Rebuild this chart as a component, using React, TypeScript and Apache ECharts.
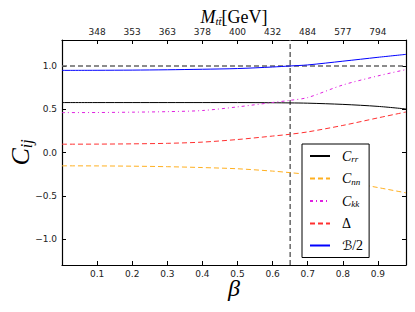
import React, { useEffect, useRef } from 'react';
import * as echarts from 'echarts';

// beta grid
const beta = [0, 0.1, 0.2, 0.3, 0.4, 0.5, 0.6, 0.65, 0.7, 0.8, 0.9, 0.98];
// series values
const cRR = [0.577, 0.577, 0.577, 0.577, 0.577, 0.577, 0.575, 0.573, 0.57, 0.556, 0.533, 0.503];
const cNN = [-0.154, -0.155, -0.158, -0.164, -0.174, -0.188, -0.215, -0.233, -0.255, -0.33, -0.405, -0.466];
const cKK = [0.461, 0.462, 0.466, 0.472, 0.485, 0.527, 0.578, 0.603, 0.635, 0.78, 0.885, 0.958];
const delta = [0.096, 0.097, 0.1, 0.106, 0.12, 0.15, 0.19, 0.211, 0.238, 0.313, 0.4, 0.468];
const bHalf = [0.949, 0.95, 0.952, 0.956, 0.962, 0.97, 0.988, 1.0, 1.012, 1.055, 1.1, 1.134];
// ticks
const xTicks = [0.1, 0.2, 0.3, 0.4, 0.5, 0.6, 0.7, 0.8, 0.9];
const topTickLabels = ['348', '353', '363', '378', '400', '432', '484', '577', '794'];
const yTicks = [-1.0, -0.5, 0.0, 0.5, 1.0];
const refLevel = 1.0;
const refBeta = 0.65;

const serif = 'Liberation Serif';
const sans = 'DejaVu Sans';

const richMath = (size: number) => ({
  i: { fontFamily: serif, fontStyle: 'italic', fontSize: size, color: '#000' },
  s: { fontFamily: serif, fontStyle: 'italic', fontSize: Math.round(size * 0.62), color: '#000', padding: [Math.round(size * 0.45), 0, 0, 0] },
  r: { fontFamily: serif, fontSize: size, color: '#000' },
  b: { fontFamily: 'DejaVu Sans', fontSize: size - 1, color: '#000' },
});

export default function App() {
  const ref = useRef<HTMLDivElement>(null);
  useEffect(() => {
    if (!ref.current) return;
    const chart = echarts.init(ref.current, undefined, { renderer: 'svg' });
    const pairs = (vals: number[]) => beta.map((b, i) => [b, vals[i]]);
    const legendText: Record<string, string> = {
      Crr: '{i|C}{s|rr}',
      Cnn: '{i|C}{s|nn}',
      Ckk: '{i|C}{s|kk}',
      Delta: '{r|Δ}',
      B2: '{b|ℬ}{r|/2}',
    };
    const frameLine = { show: true, onZero: false, lineStyle: { color: '#000', width: 1.2 } };
    const tick = (vals: number[]) => ({ show: true, inside: true, length: 4, customValues: vals, lineStyle: { color: '#000', width: 1 } });
    const labelStyle = { fontFamily: sans, fontSize: 9, color: '#222' };
    chart.setOption({
      animation: false,
      backgroundColor: '#fff',
      grid: { left: 62, right: 9, top: 40, bottom: 47, containLabel: false, outerBoundsMode: 'none' },
      legend: {
        data: ['Crr', 'Cnn', 'Ckk', 'Delta', 'B2'],
        orient: 'vertical',
        left: 302,
        top: 144,
        itemWidth: 20,
        itemHeight: 10,
        itemGap: 8,
        padding: [5, 6, 5, 7],
        borderColor: '#000',
        borderWidth: 1,
        backgroundColor: '#fff',
        borderRadius: 0,
        itemStyle: { opacity: 0, borderWidth: 0 },
        formatter: (n: string) => legendText[n],
        textStyle: { width: 26, padding: [0, 0, 0, 7], rich: richMath(14) },
        selectedMode: false,
      },
      xAxis: [
        {
          type: 'value', min: 0, max: 0.98, position: 'bottom',
          axisLine: frameLine, axisTick: tick(xTicks), splitLine: { show: false },
          axisLabel: { ...labelStyle, customValues: xTicks, margin: 4, formatter: (v: number) => v.toFixed(1) },
          name: '{i|β}', nameLocation: 'middle', nameGap: 11, nameMoveOverlap: false,
          nameTextStyle: { rich: richMath(24) },
        },
        {
          type: 'value', min: 0, max: 0.98, position: 'top',
          axisLine: frameLine, axisTick: tick(xTicks), splitLine: { show: false },
          axisLabel: {
            ...labelStyle, customValues: xTicks, margin: 4,
            formatter: (v: number) => {
              const k = xTicks.findIndex((t) => Math.abs(t - v) < 1e-6);
              return k >= 0 ? topTickLabels[k] : '';
            },
          },
          name: '{i|M}{s|tt̄}{r|[GeV]}', nameLocation: 'middle', nameGap: 14, nameMoveOverlap: false,
          nameTextStyle: { rich: richMath(18) },
        },
      ],
      yAxis: [
        {
          type: 'value', min: -1.3, max: 1.3, position: 'left',
          axisLine: frameLine, axisTick: tick(yTicks), splitLine: { show: false },
          axisLabel: {
            ...labelStyle, customValues: yTicks, margin: 5,
            formatter: (v: number) => (v < 0 ? '−' + Math.abs(v).toFixed(1) : v.toFixed(1)),
          },
          name: '{i|C}{s|ij}', nameLocation: 'middle', nameGap: 28, nameRotate: 90, nameMoveOverlap: false,
          nameTextStyle: { rich: richMath(26) },
        },
        {
          type: 'value', min: -1.3, max: 1.3, position: 'right',
          axisLine: frameLine, axisTick: tick(yTicks), axisLabel: { show: false }, splitLine: { show: false },
        },
      ],
      series: [
        { name: 'ref-h', type: 'line', data: [[0, refLevel], [0.98, refLevel]], symbol: 'none', silent: true, z: 1,
          lineStyle: { color: '#666', width: 1.5, type: [5, 3] } },
        { name: 'ref-v', type: 'line', data: [[refBeta, -1.3], [refBeta, 1.3]], symbol: 'none', silent: true, z: 1,
          lineStyle: { color: '#666', width: 1.5, type: [5, 3] } },
        { name: 'Crr', type: 'line', data: pairs(cRR), symbol: 'none', smooth: 0.3, z: 3,
          lineStyle: { color: '#000', width: 1 }, itemStyle: { color: '#000' } },
        { name: 'Cnn', type: 'line', data: pairs(cNN), symbol: 'none', smooth: 0.3, z: 3,
          lineStyle: { color: '#ffb020', width: 1, type: [5, 3] }, itemStyle: { color: '#ffb020' } },
        { name: 'Ckk', type: 'line', data: pairs(cKK), symbol: 'none', smooth: 0.3, z: 3,
          lineStyle: { color: '#e020e0', width: 1, type: [3, 3, 1, 3] }, itemStyle: { color: '#e020e0' } },
        { name: 'Delta', type: 'line', data: pairs(delta), symbol: 'none', smooth: 0.3, z: 3,
          lineStyle: { color: '#ff3030', width: 1, type: [5, 3] }, itemStyle: { color: '#ff3030' } },
        { name: 'B2', type: 'line', data: pairs(bHalf), symbol: 'none', smooth: 0.3, z: 3,
          lineStyle: { color: '#0000ff', width: 1 }, itemStyle: { color: '#0000ff' } },
      ],
    });
    return () => chart.dispose();
  }, []);
  return <div ref={ref} style={{ position: 'fixed', left: 0, top: 0, width: 415, height: 312 }} />;
}
